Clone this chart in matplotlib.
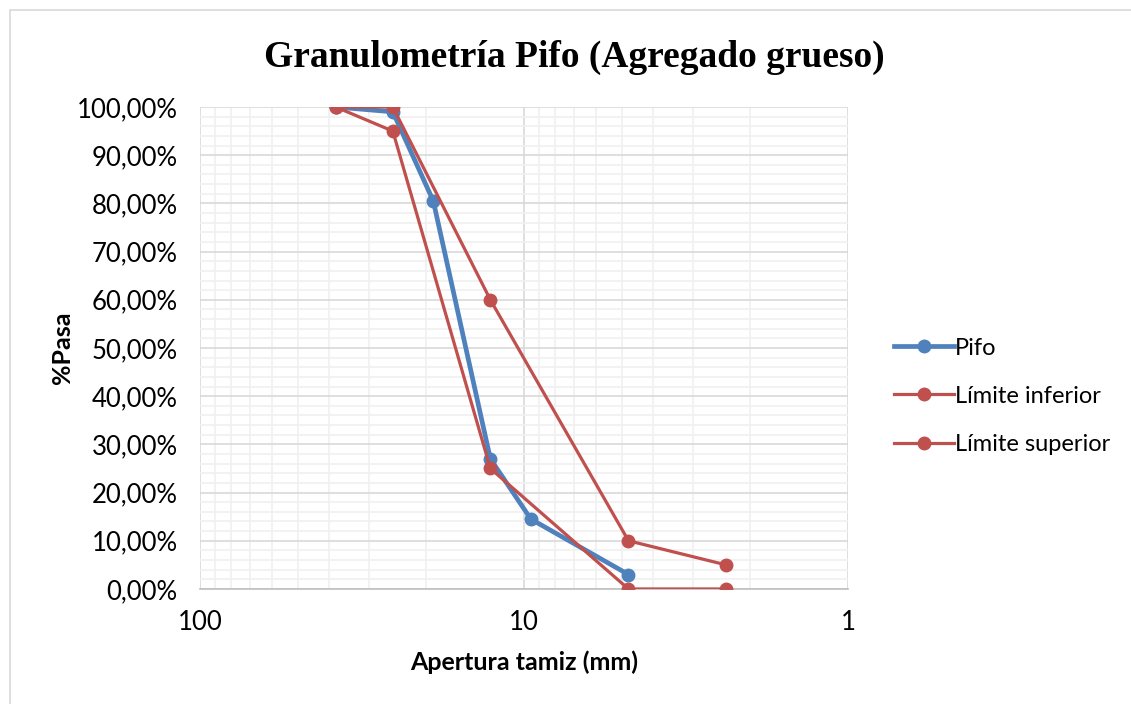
import numpy as np
import matplotlib.pyplot as plt
from matplotlib.ticker import FixedLocator, FuncFormatter, NullFormatter
from matplotlib.patches import Rectangle

# aberturas de tamiz (mm) y % que pasa
pifo_x = [38.1, 25.4, 19.05, 12.7, 9.525, 4.76]
pifo_y = [100, 99, 80.5, 27, 14.5, 3]

inf_x = [38.1, 25.4, 12.7, 4.76, 2.38]
inf_y = [100, 95, 25, 0, 0]

sup_x = [38.1, 25.4, 12.7, 4.76, 2.38]
sup_y = [100, 100, 60, 10, 5]

blue = '#4f81bd'
red = '#c0504d'

plt.rcParams['font.family'] = ['Lato', 'DejaVu Sans']

fig = plt.figure(figsize=(11.31, 7.04), dpi=100)
ax = fig.add_axes([0.1768, 0.1634, 0.5730, 0.6846])

ax.plot(pifo_x, pifo_y, color=blue, lw=3.4, marker='o', ms=9, label='Pifo', zorder=3)
ax.plot(inf_x, inf_y, color=red, lw=2.3, marker='o', ms=9, label='Límite inferior', zorder=4)
ax.plot(sup_x, sup_y, color=red, lw=2.3, marker='o', ms=9, label='Límite superior', zorder=4)

ax.set_xscale('log')
ax.set_xlim(100, 1)
ax.set_ylim(0, 100)

ax.xaxis.set_major_locator(FixedLocator([100, 10, 1]))
ax.xaxis.set_major_formatter(FuncFormatter(lambda v, p: '%d' % v))
minors = [m * d for d in (1, 10) for m in range(2, 10)]
ax.xaxis.set_minor_locator(FixedLocator(minors))
ax.xaxis.set_minor_formatter(NullFormatter())

ax.set_yticks(np.arange(0, 101, 10))
ax.set_yticks(np.arange(0, 101, 2), minor=True)
ax.yaxis.set_major_formatter(FuncFormatter(lambda v, p: ('%.2f%%' % v).replace('.', ',')))

ax.grid(which='major', color='#d9d9d9', lw=1.2)
ax.grid(which='minor', color='#f0f0f0', lw=1.2)
ax.set_axisbelow(True)
ax.tick_params(which='both', length=0, labelsize=18.5)
ax.tick_params(axis='y', pad=16)
ax.tick_params(axis='x', pad=15)
for s in ('top', 'right', 'left'):
    ax.spines[s].set_visible(False)
ax.spines['bottom'].set_color('#bfbfbf')
ax.spines['bottom'].set_linewidth(1.2)

ax.set_xlabel('Apertura tamiz (mm)', fontsize=18, fontweight='bold', labelpad=11)
ax.set_ylabel('%Pasa', fontsize=18, fontweight='bold', labelpad=2)
fig.text(0.5075, 0.918, 'Granulometría Pifo (Agregado grueso)', ha='center', va='center',
         fontsize=27, fontweight='bold', family='Liberation Serif')

ax.legend(loc='center left', bbox_to_anchor=(1.038, 0.40), frameon=False, fontsize=17,
          handlelength=2.55, handletextpad=0.05, labelspacing=1.15)

fig.patches.append(Rectangle((0.009, -0.01), 1.2, 0.996, transform=fig.transFigure,
                             fill=False, edgecolor='#d9d9d9', lw=1.2))

plt.savefig('out.png', dpi=100)
